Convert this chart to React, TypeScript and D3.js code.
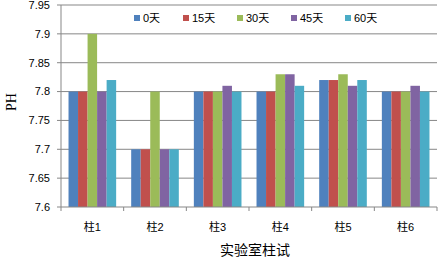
import React from "react";
import * as d3 from "d3";

const categories = ["柱1", "柱2", "柱3", "柱4", "柱5", "柱6"];
const seriesNames = ["0天", "15天", "30天", "45天", "60天"];
const d0 = [7.8, 7.7, 7.8, 7.8, 7.82, 7.8];
const d15 = [7.8, 7.7, 7.8, 7.8, 7.82, 7.8];
const d30 = [7.9, 7.8, 7.8, 7.83, 7.83, 7.8];
const d45 = [7.8, 7.7, 7.81, 7.83, 7.81, 7.81];
const d60 = [7.82, 7.7, 7.8, 7.81, 7.82, 7.8];
const yTicks = [7.6, 7.65, 7.7, 7.75, 7.8, 7.85, 7.9, 7.95];
const colors = ["#4F81BD", "#C0504D", "#9BBB59", "#8064A2", "#4BACC6"];

const W = 439, H = 258;
const left = 61, right = 437, top = 5, bottom = 207;
const font = "'Liberation Sans', Arial, 'Noto Sans CJK SC', sans-serif";

export default function App() {
  const series = [d0, d15, d30, d45, d60];
  const x = d3.scaleBand<string>().domain(categories).range([left, right]).paddingInner(0.24).paddingOuter(0.12);
  const x0 = d3.scaleBand<string>().domain(categories).range([left, right]);
  const xs = d3.scaleBand<number>().domain(d3.range(series.length)).range([0, x.bandwidth()]);
  const y = d3.scaleLinear().domain([7.6, 7.95]).range([bottom, top]);
  const legendX = [134, 183, 237, 291, 345];
  return (
    <svg width={W} height={H} style={{ position: "absolute", left: 0, top: 0, background: "#fff" }}>
      {yTicks.map((t) => (
        <g key={t}>
          {t > 7.6 && <line x1={left} x2={right} y1={y(t)} y2={y(t)} stroke="#878787" strokeWidth={1} />}
          <line x1={left - 4} x2={left} y1={y(t)} y2={y(t)} stroke="#878787" />
          <text x={left - 11} y={y(t)} dy="0.35em" textAnchor="end" fontFamily={font} fontSize={11} fill="#000">
            {d3.format("")(t)}
          </text>
        </g>
      ))}
      {categories.map((c, i) => (
        <g key={c}>
          {series.map((s, j) => (
            <rect key={j} x={(x(c) as number) + (xs(j) as number)} width={xs.bandwidth()} y={y(s[i])} height={bottom - y(s[i])} fill={colors[j]} />
          ))}
          <text x={(x0(c) as number) + x0.bandwidth() / 2} y={227} dy="0.35em" textAnchor="middle" fontFamily={font} fontSize={11} fill="#000">
            {c}
          </text>
        </g>
      ))}
      <line x1={left} x2={left} y1={top} y2={bottom} stroke="#878787" />
      <line x1={left} x2={right} y1={bottom} y2={bottom} stroke="#878787" />
      {d3.range(categories.length + 1).map((i) => {
        const xv = left + i * x0.step();
        return <line key={i} x1={xv} x2={xv} y1={bottom} y2={bottom + 4} stroke="#878787" />;
      })}
      {seriesNames.map((n, j) => (
        <g key={n}>
          <rect x={legendX[j]} y={15} width={6} height={6} fill={colors[j]} />
          <text x={legendX[j] + 9} y={18} dy="0.35em" fontFamily={font} fontSize={11} fill="#000">{n}</text>
        </g>
      ))}
      <text transform={`translate(16,102) rotate(-90)`} textAnchor="middle" fontFamily="'Liberation Serif', 'Times New Roman', serif" fontSize={14} fill="#000">PH</text>
      <text x={255} y={250} dy="0.35em" textAnchor="middle" fontFamily="'Noto Sans CJK SC', sans-serif" fontSize={14} fill="#000">实验室柱试</text>
    </svg>
  );
}
